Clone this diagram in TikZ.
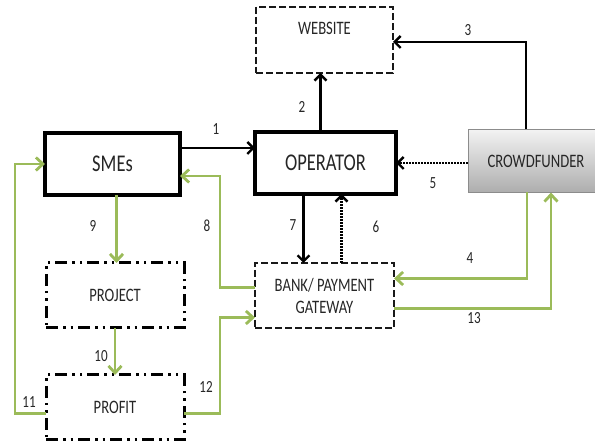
\documentclass[tikz,border=0pt]{standalone}
\usepackage{fontspec}
\usetikzlibrary{arrows.meta}
\usetikzlibrary{calc}
\usetikzlibrary{shadows}

\newfontfamily\boxfont[FakeStretch=0.77]{Carlito}
\definecolor{leaf}{HTML}{9BBB59}

\begin{document}
\begin{tikzpicture}[%
        x = 1pt, y = -1pt,
        line width = 2.4pt,
        text = black!85,
        font = \boxfont,
        arr/.style = {draw = black, -{Straight Barb[length=6pt,width=12pt]}},
        dotarr/.style = {arr, dash pattern = on 1.6pt off 1.4pt},
        garr/.style = {draw = leaf, line width = 2.8pt, -{Straight Barb[length=7pt,width=13pt]}},
        solidbox/.style = {draw = black, line width = 3.4pt, fill = white,
            drop shadow = {opacity = 0.2, shadow xshift = 2pt, shadow yshift = -2pt},
            font = \boxfont\fontsize{24}{26}\selectfont},
        dashbox/.style = {draw = black!90, line width = 2.6pt, dash pattern = on 7pt off 3pt,
            font = \boxfont\fontsize{19}{22}\selectfont, align = center},
        dotbox/.style = {draw = black, line width = 3pt,
            dash pattern = on 12pt off 5pt on 2.5pt off 5pt on 2.5pt off 5pt,
            font = \boxfont\fontsize{19}{22}\selectfont},
        num/.style = {font = \boxfont\fontsize{17}{20}\selectfont, inner sep = 0pt},
        outer sep = 0pt,
        ]

\useasboundingbox[clip] (0,0) rectangle (595,443);

% boxes
\node (SME) [solidbox, minimum width = 135pt, minimum height = 62pt] at (112.5,164) {SMEs};
\node (OP) [solidbox, minimum width = 141pt, minimum height = 62pt] at (325.5,163) {OPERATOR};
\node (W) [dashbox, minimum width = 137pt, minimum height = 66pt, text depth = 24pt] at (324.5,40) {WEBSITE};
\node (CF) [draw = black!45, line width = 1pt, top color = black!5, bottom color = black!32,
    minimum width = 136pt, minimum height = 63pt, font = \boxfont\fontsize{19}{22}\selectfont]
    at (536,161) {CROWDFUNDER};
\node (BK) [dashbox, minimum width = 139pt, minimum height = 65pt] at (324.5,295.5)
    {BANK/ PAYMENT\\GATEWAY};
\node (PJ) [dotbox, minimum width = 138pt, minimum height = 65pt] at (115,295.5) {PROJECT};
\node (PF) [dotbox, minimum width = 138pt, minimum height = 65pt] at (115,407.5) {PROFIT};

% black flows
\draw[arr] ([yshift=16pt]SME.east) -- ([yshift=16pt]SME.east -| OP.west);
\draw[arr] ([xshift=-5pt]OP.north) -- ([xshift=-5pt]OP.north |- W.south);
\draw[arr] ([xshift=-10pt]CF.north) |- ([yshift=-2pt]W.east);
\draw[dotarr] (CF.west |- OP.east) -- (OP.east);
\draw[arr] ([xshift=-22pt]OP.south) -- ([xshift=-22pt]OP.south |- BK.north);
\draw[dotarr] ([xshift=17pt]BK.north) -- ([xshift=17pt]BK.north |- OP.south);

% green flows
\draw[garr] ([xshift=-9pt]CF.south) |- ([yshift=17pt]BK.east);
\draw[garr] ([yshift=-13pt]BK.east) -| ([xshift=15pt]CF.south);
\draw[garr] ([yshift=8pt]BK.west) -| ([xshift=40pt,yshift=-12pt]SME.east) -- ([yshift=-12pt]SME.east);
\draw[garr] ([xshift=4pt]SME.south) -- ([xshift=4pt]SME.south |- PJ.north);
\draw[garr] (PJ.south) -- (PF.north);
\draw[garr] ([yshift=-6pt]PF.west) -| ([xshift=-30pt]SME.west) -- (SME.west);
\draw[garr] ([yshift=-6pt]PF.east) -| ([xshift=-35pt,yshift=-22pt]BK.west) -- ([yshift=-22pt]BK.west);

% step numbers
\foreach \NUM/\X/\Y in {1/216/129, 2/302/107, 3/468/30, 4/470/258, 5/433/183,
    6/376/227, 7/293/225, 8/207/226, 9/93/226, 10/101/356, 11/29/402,
    12/206/387, 13/474/318}{%
    \node (n\NUM) [num] at (\X,\Y) {\NUM};
    }

\end{tikzpicture}
\end{document}
